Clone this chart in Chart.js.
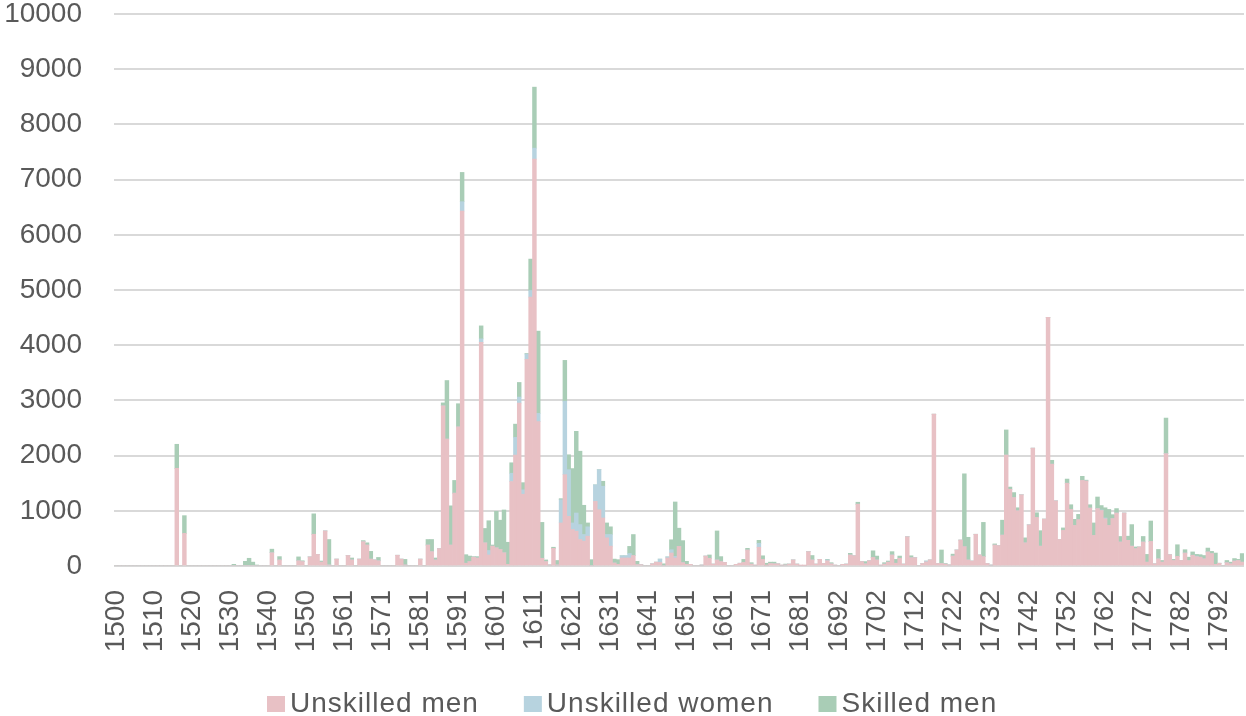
<!DOCTYPE html>
<html>
<head>
<meta charset="utf-8">
<title>Workers per year, 1500-1798</title>
<script src="https://cdn.jsdelivr.net/npm/chart.js@4.4.1/dist/chart.umd.min.js"></script>
<style>
    html, body { margin: 0; padding: 0; background: #ffffff; }
    #wrap { width: 1246px; height: 716px; }
</style>
</head>
<body>
<div id="wrap"><canvas id="chart" width="1246" height="716"></canvas></div>
<script>
// Category axis: one bar per year, two years are absent from the series
const firstYear = 1500;
const lastYear = 1798;
const missingYears = [1556, 1687];
const years = [];
for (let y = firstYear; y <= lastYear; y++) {
    if (!missingYears.includes(y)) years.push(y);
}

// y axis ticks
const yTicks = [0, 1000, 2000, 3000, 4000, 5000, 6000, 7000, 8000, 9000, 10000];

// Series values, one per year (rows of 10 bars)
const unskilledMen = [
    0, 0, 0, 0, 0, 0, 0, 0, 0, 0,
    0, 0, 0, 0, 0, 0, 1770, 0, 592, 0,
    0, 0, 0, 0, 0, 0, 0, 0, 0, 0,
    0, 0, 0, 0, 0, 0, 0, 0, 0, 0,
    0, 240, 0, 110, 0, 0, 0, 0, 95, 80,
    0, 165, 575, 210, 70, 635, 20, 0, 125, 0,
    0, 190, 110, 0, 125, 440, 380, 125, 110, 95,
    0, 0, 0, 0, 195, 125, 20, 0, 0, 0,
    125, 0, 380, 260, 110, 315, 2900, 2300, 380, 1320,
    2520, 6430, 50, 80, 160, 145, 4050, 420, 200, 360,
    330, 300, 240, 30, 1530, 2010, 2950, 1300, 3745, 4870,
    7370, 2615, 140, 80, 20, 320, 20, 780, 1655, 900,
    660, 630, 480, 450, 540, 0, 1170, 1020, 870, 510,
    360, 55, 30, 145, 145, 145, 190, 25, 24, 0,
    0, 40, 70, 65, 0, 145, 235, 145, 355, 60,
    30, 30, 0, 0, 18, 180, 140, 35, 110, 80,
    65, 0, 0, 30, 50, 65, 290, 35, 15, 340,
    120, 10, 45, 40, 40, 15, 20, 35, 110, 35,
    10, 10, 260, 110, 35, 120, 45, 95, 40, 15,
    0, 30, 35, 200, 185, 1120, 80, 40, 95, 155,
    110, 15, 35, 70, 200, 50, 140, 35, 530, 150,
    150, 0, 45, 75, 110, 2750, 45, 45, 35, 20,
    180, 290, 470, 350, 110, 90, 575, 200, 170, 45,
    18, 380, 370, 560, 2010, 1390, 1240, 1000, 1290, 420,
    745, 2135, 880, 360, 850, 4505, 1845, 1180, 480, 645,
    1500, 1025, 735, 840, 1550, 1540, 1050, 555, 1040, 1005,
    855, 735, 860, 960, 435, 960, 465, 360, 315, 345,
    435, 70, 445, 40, 130, 70, 2035, 205, 100, 175,
    100, 235, 100, 195, 170, 160, 130, 255, 225, 30,
    50, 0, 60, 40, 90, 100, 70
];

const unskilledWomen = [
    0, 0, 0, 0, 0, 0, 0, 0, 0, 0,
    0, 0, 0, 0, 0, 0, 0, 0, 0, 0,
    0, 0, 0, 0, 0, 0, 0, 0, 0, 0,
    0, 0, 0, 0, 0, 0, 0, 0, 0, 0,
    0, 0, 0, 0, 0, 0, 0, 0, 0, 0,
    0, 0, 0, 0, 0, 0, 0, 0, 0, 0,
    0, 0, 0, 0, 0, 0, 0, 0, 0, 0,
    0, 0, 0, 0, 0, 0, 0, 0, 0, 0,
    0, 0, 0, 0, 0, 0, 0, 0, 0, 0,
    0, 170, 0, 0, 0, 0, 65, 0, 80, 0,
    0, 0, 0, 0, 150, 320, 110, 80, 95, 120,
    200, 150, 0, 0, 0, 0, 0, 420, 1330, 845,
    120, 330, 270, 120, 170, 0, 300, 725, 575, 60,
    210, 0, 0, 40, 40, 80, 0, 0, 0, 0,
    0, 0, 0, 60, 0, 20, 60, 30, 0, 0,
    0, 0, 0, 0, 0, 0, 0, 0, 0, 0,
    0, 0, 0, 0, 0, 0, 0, 0, 0, 70,
    0, 0, 0, 0, 0, 0, 0, 0, 0, 0,
    0, 0, 0, 0, 0, 0, 0, 15, 0, 0,
    0, 0, 0, 0, 0, 0, 0, 0, 0, 0,
    0, 0, 0, 0, 0, 0, 0, 0, 0, 0,
    0, 0, 0, 15, 0, 0, 0, 0, 0, 0,
    0, 0, 0, 0, 0, 0, 0, 0, 0, 0,
    0, 0, 0, 0, 0, 0, 0, 0, 0, 0,
    0, 0, 0, 0, 0, 0, 0, 0, 0, 0,
    0, 0, 0, 0, 0, 0, 0, 0, 0, 10,
    15, 0, 0, 0, 0, 0, 0, 0, 0, 0,
    0, 0, 0, 0, 0, 0, 0, 0, 0, 0,
    0, 0, 0, 0, 10, 0, 0, 0, 0, 0,
    0, 0, 0, 0, 0, 0, 0
];

const skilledMen = [
    0, 0, 0, 0, 0, 0, 0, 0, 0, 0,
    0, 0, 0, 0, 0, 0, 435, 0, 320, 0,
    0, 0, 0, 0, 0, 0, 0, 0, 0, 0,
    0, 30, 0, 0, 85, 140, 70, 15, 0, 0,
    0, 65, 0, 60, 0, 0, 0, 0, 70, 15,
    0, 0, 370, 0, 20, 0, 460, 0, 0, 0,
    0, 0, 35, 0, 0, 20, 40, 140, 0, 60,
    0, 0, 0, 0, 0, 0, 100, 0, 0, 0,
    0, 0, 100, 220, 35, 0, 55, 1060, 710, 230,
    420, 530, 155, 100, 10, 25, 235, 260, 540, 20,
    660, 530, 775, 400, 190, 240, 265, 130, 10, 570,
    1105, 1490, 650, 30, 0, 20, 80, 20, 740, 270,
    985, 1480, 1330, 530, 70, 115, 0, 0, 90, 210,
    140, 70, 85, 0, 0, 130, 380, 60, 0, 0,
    0, 0, 0, 0, 40, 0, 180, 985, 330, 400,
    55, 0, 0, 0, 0, 0, 60, 0, 525, 90,
    0, 0, 0, 0, 0, 55, 30, 25, 0, 55,
    65, 40, 25, 30, 0, 0, 15, 0, 0, 0,
    0, 0, 0, 80, 0, 0, 0, 10, 20, 0,
    0, 0, 0, 30, 0, 35, 0, 40, 0, 120,
    70, 0, 25, 20, 60, 70, 40, 0, 0, 35,
    0, 0, 0, 0, 0, 0, 0, 245, 10, 0,
    35, 0, 0, 1320, 410, 0, 0, 0, 620, 0,
    0, 20, 0, 270, 455, 40, 90, 55, 0, 90,
    0, 0, 85, 280, 0, 0, 70, 0, 0, 45,
    75, 85, 110, 95, 75, 15, 60, 225, 210, 80,
    185, 290, 70, 80, 100, 0, 75, 390, 30, 0,
    100, 140, 370, 0, 170, 30, 645, 0, 20, 210,
    0, 60, 60, 60, 30, 45, 60, 70, 40, 205,
    0, 0, 40, 30, 45, 20, 155
];

const FONT_FAMILY = "'Liberation Sans', Arial, sans-serif";
const TEXT_COLOR = '#595959';
const GRID_COLOR = '#d9d9d9';

const COLORS = {
    unskilledMen: '#e8c1c5',
    unskilledWomen: '#b7d3df',
    skilledMen: '#a9cdb6'
};

// Legend drawn under the axis, boxes hugging the text like the original
const bottomLegend = {
    id: 'bottomLegend',
    afterDraw(chart) {
        const ctx = chart.ctx;
        ctx.save();
        ctx.font = '28px ' + FONT_FAMILY;
        ctx.letterSpacing = '1px';
        ctx.textBaseline = 'alphabetic';
        let x = 267;
        chart.data.datasets.forEach(ds => {
            ctx.fillStyle = ds.backgroundColor;
            ctx.fillRect(x, 696, 18, 16);
            ctx.fillStyle = TEXT_COLOR;
            ctx.fillText(ds.label, x + 23, 712);
            x += 23 + ctx.measureText(ds.label).width + 45;
        });
        ctx.restore();
    }
};

// keep the plot area fixed, the labels may overhang it
function noPadding(scale) {
    scale.paddingLeft = 0;
    scale.paddingRight = 0;
    scale.paddingTop = 0;
    scale.paddingBottom = 0;
}

Chart.defaults.font.family = FONT_FAMILY;
Chart.defaults.font.size = 28;
Chart.defaults.color = TEXT_COLOR;

new Chart(document.getElementById('chart'), {
    type: 'bar',
    data: {
        labels: years,
        datasets: [
            { label: 'Unskilled men', data: unskilledMen, backgroundColor: COLORS.unskilledMen },
            { label: 'Unskilled women', data: unskilledWomen, backgroundColor: COLORS.unskilledWomen },
            { label: 'Skilled men', data: skilledMen, backgroundColor: COLORS.skilledMen }
        ]
    },
    options: {
        responsive: false,
        animation: false,
        layout: { padding: { top: 14, right: 2, bottom: 0, left: 0 } },
        datasets: {
            bar: { barPercentage: 1, categoryPercentage: 1, borderWidth: 0 }
        },
        plugins: {
            legend: { display: false },
            tooltip: { enabled: false }
        },
        scales: {
            x: {
                stacked: true,
                grid: { display: false },
                border: { display: false },
                ticks: {
                    autoSkip: false,
                    minRotation: 90,
                    maxRotation: 90,
                    padding: 16,
                    callback: function(value, index) {
                        return index % 10 === 0 ? String(years[index]) : '';
                    }
                },
                afterFit: function(scale) {
                    scale.height = 150;
                    noPadding(scale);
                }
            },
            y: {
                stacked: true,
                min: yTicks[0],
                max: yTicks[yTicks.length - 1],
                ticks: {
                    stepSize: yTicks[1] - yTicks[0],
                    padding: 32,
                    callback: function(value) { return String(value); }
                },
                grid: { color: GRID_COLOR, lineWidth: 2, drawTicks: false },
                border: { display: false },
                afterFit: function(scale) {
                    scale.width = 114;
                    noPadding(scale);
                }
            }
        }
    },
    plugins: [bottomLegend]
});
</script>
</body>
</html>
